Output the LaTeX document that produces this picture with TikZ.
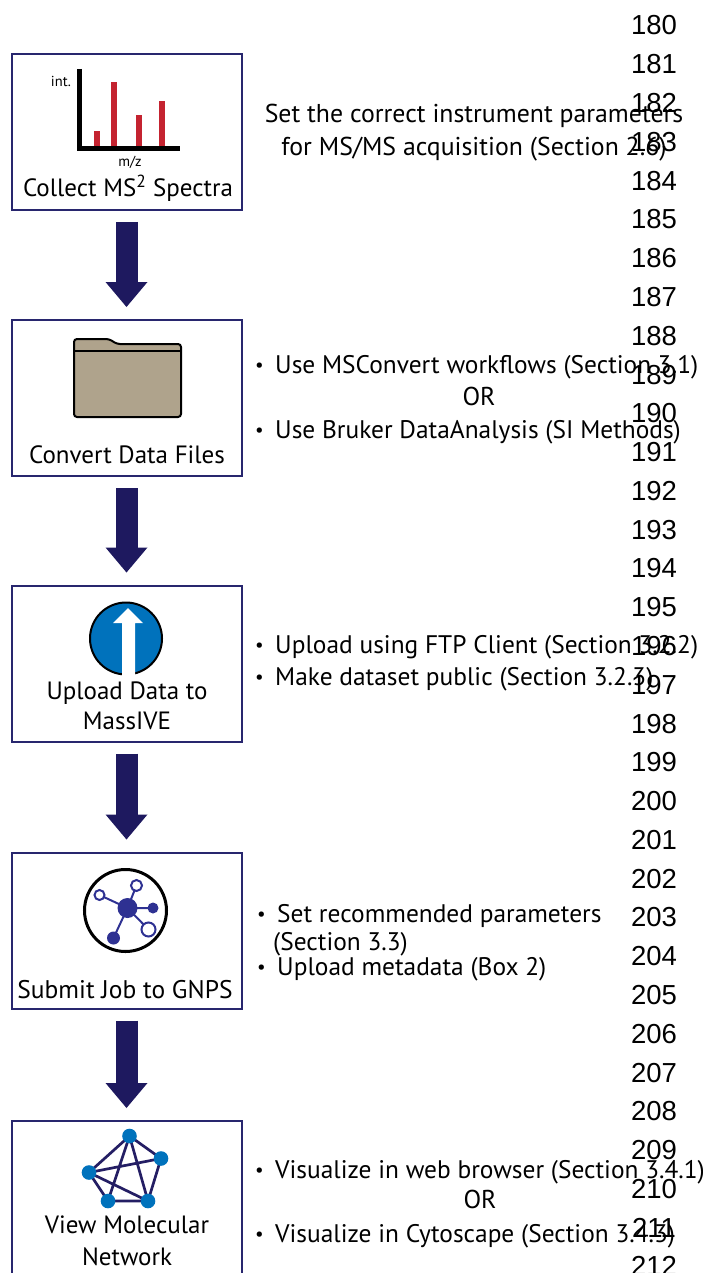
\documentclass[tikz,border=0pt]{standalone}
\usepackage{fontspec}
\setmainfont{PT Sans}
\newfontfamily\linenofont{Liberation Sans}
\usepackage{tikz}
\usetikzlibrary{arrows.meta}

\definecolor{boxline}{RGB}{40,38,110}
\definecolor{flowblue}{RGB}{30,25,95}
\definecolor{barred}{RGB}{196,35,48}
\definecolor{foldertan}{RGB}{175,163,140}
\definecolor{upblue}{RGB}{0,114,188}
\definecolor{hubblue}{RGB}{46,49,146}
\definecolor{netline}{RGB}{36,30,100}

\newcommand{\bul}{\makebox[20pt][l]{\raisebox{1.5pt}{\fontsize{19}{19}\selectfont\textbullet}}}

\tikzset{
  stepbox/.style={draw=boxline, line width=2pt, minimum width=230pt, minimum height=156pt, inner sep=0pt},
  flow/.style={draw=flowblue, line width=22pt, -{Triangle[width=42pt,length=25pt,line width=0pt]}, shorten <=11pt, shorten >=12pt},
  lbl/.style={font=\fontsize{25}{30}\selectfont, inner sep=0pt, anchor=base},
  note/.style={font=\fontsize{25.4}{30}\selectfont, inner sep=0pt, anchor=base west},
  notec/.style={font=\fontsize{25.8}{30}\selectfont, inner sep=0pt, anchor=base},
  tinylbl/.style={font=\fontsize{14.5}{16}\selectfont, inner sep=0pt, anchor=base},
  lineno/.style={font=\linenofont\fontsize{27.5}{30}\selectfont, inner sep=0pt, anchor=base},
  bar/.style={draw=barred, line width=5.7pt},
  hubline/.style={draw=hubblue, line width=2pt},
  netedge/.style={draw=netline, line width=2.7pt},
}

\begin{document}
\begin{tikzpicture}[x=1pt,y=-1pt]
  \useasboundingbox (0,0) rectangle (703,1273);
  \clip (0,0) rectangle (703,1273);

  % steps
  \node[stepbox] (collect) at (126.5,132) {};
  \node[stepbox] (convert) at (126.5,398) {};
  \node[stepbox] (upload) at (126.5,663.5) {};
  \node[stepbox] (submit) at (126.5,930.5) {};
  \node[stepbox] (view) at (126.5,1199) {};

  \draw[flow] (collect) -- (convert);
  \draw[flow] (convert) -- (upload);
  \draw[flow] (upload) -- (submit);
  \draw[flow] (submit) -- (view);

  % spectrum
  \draw[line width=5pt] (79.8,69) -- (79.8,148.8) -- (180,148.8);
  \draw[bar] (97.2,146) -- (97.2,130.7);
  \draw[bar] (113.8,146) -- (113.8,81.7);
  \draw[bar] (138.8,146) -- (138.8,115);
  \draw[bar] (162.2,146) -- (162.2,100.7);
  \node[tinylbl] (intlbl) at (61,87) {int.};
  \node[tinylbl] (mzlbl) at (130,167) {m/z};
  \node[lbl] (collectlbl) at (128,197) {Collect MS\textsuperscript{2} Spectra};

  % folder
  \filldraw[fill=foldertan, line width=2pt, rounded corners=3pt]
    (74,417) -- (74,339) -- (109,339) -- (117,344) -- (181,344) -- (181,417) -- cycle;
  \draw[line width=1.5pt] (74,351) -- (181,351);
  \node[lbl] (convertlbl) at (127,463) {Convert Data Files};

  % upload
  \filldraw[fill=upblue, line width=2pt] (126,638.5) circle (36pt);
  \fill[white] (122,676) -- (122,623) -- (113,623) -- (128,608) -- (143,623) -- (135,623) -- (135,676) -- cycle;
  \node[lbl] (uploadlbl) at (127,699) {Upload Data to};
  \node[lbl] (uploadlbl2) at (127,729) {MassIVE};

  % gnps job
  \draw[line width=3pt] (125.5,910.5) circle (41pt);
  \coordinate (hub) at (127.5,908);
  \coordinate (s1) at (99.5,895);
  \coordinate (s2) at (136.5,885.5);
  \coordinate (s3) at (153,908);
  \coordinate (s4) at (148.5,929.5);
  \coordinate (s5) at (113.5,938);
  \draw[hubline] (hub) -- (s1) (hub) -- (s2) (hub) -- (s3) (hub) -- (s4) (hub) -- (s5);
  \fill[hubblue] (hub) circle (10pt);
  \fill[hubblue] (s3) circle (5.5pt);
  \fill[hubblue] (s5) circle (6.5pt);
  \filldraw[fill=white, draw=hubblue, line width=2pt] (s1) circle (5pt);
  \filldraw[fill=white, draw=hubblue, line width=2pt] (s2) circle (5.5pt);
  \filldraw[fill=white, draw=hubblue, line width=2pt] (s4) circle (7pt);
  \node[lbl, font=\fontsize{25.5}{30}\selectfont] (submitlbl) at (125,998) {Submit Job to GNPS};

  % network
  \coordinate (na) at (129.5,1136);
  \coordinate (nb) at (161,1158.5);
  \coordinate (nc) at (148,1201);
  \coordinate (nd) at (108,1201);
  \coordinate (ne) at (89,1172.5);
  \draw[netedge] (na) -- (nb) -- (nc) -- (nd) -- (ne) -- (na) -- (nc) (na) -- (nd) (ne) -- (nb) (ne) -- (nc);
  \foreach \c in {na,nb,nc,nd,ne}
    \fill[upblue] (\c) circle (7.3pt);
  \node[lbl] (viewlbl) at (127,1233) {View Molecular};
  \node[lbl] (viewlbl2) at (127,1265) {Network};

  % notes
  \node[notec] (setpar) at (474,123) {Set the correct instrument parameters};
  \node[notec] (setpar2) at (474,156) {for MS/MS acquisition (Section 2.6)};

  \node[note] (cv1) at (255,373) {\bul Use MSConvert workflows (Section 3.1)};
  \node[notec] (cvor) at (479,405) {OR};
  \node[note] (cv2) at (255,438) {\bul Use Bruker DataAnalysis (SI Methods)};

  \node[note] (up1) at (255,653) {\bul Upload using FTP Client (Section 3.2.2)};
  \node[note] (up2) at (255,685) {\bul Make dataset public (Section 3.2.3)};

  \node[note] (gn1) at (257,922) {\bul Set recommended parameters};
  \node[note] (gn2) at (273,950) {(Section 3.3)};
  \node[note] (gn3) at (257,975) {\bul Upload metadata (Box 2)};

  \node[note] (vw1) at (255,1178) {\bul Visualize in web browser (Section 3.4.1)};
  \node[notec] (vwor) at (480,1208) {OR};
  \node[note] (vw2) at (255,1242) {\bul Visualize in Cytoscape (Section 3.4.3)};

  % line numbers
  \foreach \n [count=\i from 0] in {180,...,212}
    \node[lineno] (ln\n) at (654,{35+38.78*\i}) {\n};
\end{tikzpicture}
\end{document}
